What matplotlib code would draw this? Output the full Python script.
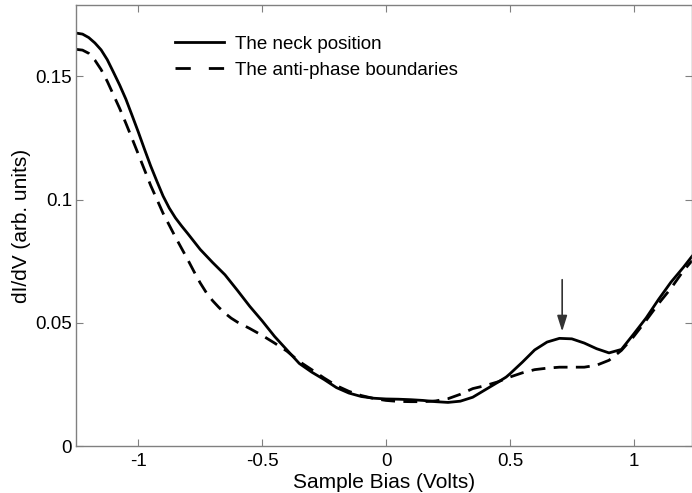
import matplotlib.pyplot as plt
from matplotlib.patches import FancyArrowPatch

plt.rcParams['font.family'] = ['Liberation Sans', 'DejaVu Sans']
plt.rcParams['axes.unicode_minus'] = False

# sample bias (V) and dI/dV
bias_neck = [-1.25, -1.225, -1.2, -1.175, -1.15, -1.125, -1.1, -1.075, -1.05, -1.025,
             -1.0, -0.975, -0.95, -0.925, -0.9, -0.875, -0.85, -0.825, -0.8, -0.775,
             -0.75, -0.7, -0.65,
             -0.6, -0.55, -0.5, -0.45, -0.4, -0.35, -0.3, -0.25, -0.2, -0.15,
             -0.1, -0.05, 0.0, 0.05, 0.1, 0.15, 0.2, 0.25, 0.3, 0.35,
             0.4, 0.45, 0.485, 0.5, 0.55, 0.6, 0.65, 0.7, 0.75, 0.8,
             0.85, 0.9, 0.95, 1.0, 1.05, 1.1, 1.15, 1.2, 1.235]
didv_neck = [0.1676, 0.1672, 0.1658, 0.1636, 0.1608, 0.1568, 0.1517, 0.1465, 0.1408, 0.1342,
             0.1275, 0.1205, 0.1137, 0.1075, 0.1015, 0.0966, 0.0926, 0.0893, 0.0862, 0.083,
             0.0798, 0.0745, 0.0695,
             0.0632, 0.0567, 0.0508, 0.0445, 0.039, 0.0335, 0.030, 0.027, 0.0237, 0.0215,
             0.0201, 0.0194, 0.0191, 0.0190, 0.0188, 0.0185, 0.0180, 0.0177, 0.0182, 0.0198,
             0.0228, 0.0258, 0.028, 0.0293, 0.034, 0.039, 0.0422, 0.0437, 0.0435, 0.0418,
             0.0395, 0.0378, 0.0392, 0.0455, 0.052, 0.0595, 0.0665, 0.0725, 0.077]

bias_apb = [-1.25, -1.225, -1.2, -1.175, -1.15, -1.125, -1.1, -1.075, -1.05, -1.025,
            -1.0, -0.95, -0.9, -0.85, -0.8, -0.775, -0.75, -0.725, -0.7, -0.675,
            -0.65, -0.625, -0.6, -0.575, -0.55, -0.5, -0.45, -0.4, -0.35, -0.3,
            -0.25, -0.2, -0.15, -0.1, -0.05, 0.0, 0.05, 0.1, 0.15, 0.2,
            0.25, 0.3, 0.35, 0.4, 0.45, 0.5, 0.55, 0.6, 0.65, 0.7,
            0.75, 0.8, 0.85, 0.9, 0.95, 1.0, 1.05, 1.1, 1.15, 1.2, 1.235]
didv_apb = [0.161, 0.1607, 0.1594, 0.1566, 0.1528, 0.148, 0.1425, 0.137, 0.131, 0.1248,
            0.1185, 0.1058, 0.0945, 0.0848, 0.0756, 0.0708, 0.0662, 0.0622, 0.059, 0.0563,
            0.0539, 0.0519, 0.0503, 0.049, 0.0477, 0.0449, 0.0418, 0.0385, 0.0343, 0.031,
            0.0276, 0.0245, 0.0222, 0.0205, 0.0193, 0.0185, 0.0181, 0.018, 0.018, 0.0183,
            0.0192, 0.021, 0.0233, 0.0245, 0.026, 0.028, 0.0297, 0.031, 0.0316, 0.032,
            0.032, 0.032, 0.0328, 0.0348, 0.0388, 0.0445, 0.051, 0.0578, 0.064, 0.0711, 0.0752]

arrow_x = 0.711
arrow_y = (0.0675, 0.0465)

fig = plt.figure(figsize=(6.92, 4.93), dpi=100)
ax = fig.add_axes([0.1103, 0.0953, 0.8897, 0.8945])

ax.plot(bias_neck, didv_neck, color='black', lw=2, label='The neck position')
ax.plot(bias_apb, didv_apb, color='black', lw=2, dashes=(5, 3),
        label='The anti-phase boundaries')

ax.add_patch(FancyArrowPatch((arrow_x, arrow_y[0]), (arrow_x, arrow_y[1]),
                             arrowstyle='-|>,head_length=0.95,head_width=0.3',
                             mutation_scale=10, color='#333333', lw=1.2,
                             shrinkA=0, shrinkB=0))

ax.set_xlim(-1.25, 1.235)
ax.set_ylim(0, 0.179)
ax.set_xticks([-1, -0.5, 0, 0.5, 1])
ax.set_xticklabels(['-1', '-0.5', '0', '0.5', '1'])
ax.set_yticks([0, 0.05, 0.1, 0.15])
ax.set_yticklabels(['0', '0.05', '0.1', '0.15'])

for s in ax.spines.values():
    s.set_color('#808080')
    s.set_linewidth(1)
ax.tick_params(direction='in', length=5, color='#808080', labelsize=13.5,
               top=True, right=True, labelcolor='black')
ax.tick_params(axis='y', pad=3)
ax.tick_params(axis='x', pad=5)

ax.set_xlabel('Sample Bias (Volts)', fontsize=15, labelpad=2)
ax.set_ylabel('dI/dV (arb. units)', fontsize=15, labelpad=3)

leg = ax.legend(loc='upper left', bbox_to_anchor=(0.16, 0.93), frameon=False,
                fontsize=13.5, handlelength=2.6, handletextpad=0.6,
                borderpad=0, borderaxespad=0, labelspacing=0.45)
leg.get_lines()[1].set_dashes((5.5, 6.5))

fig.savefig('out.png', dpi=100)
